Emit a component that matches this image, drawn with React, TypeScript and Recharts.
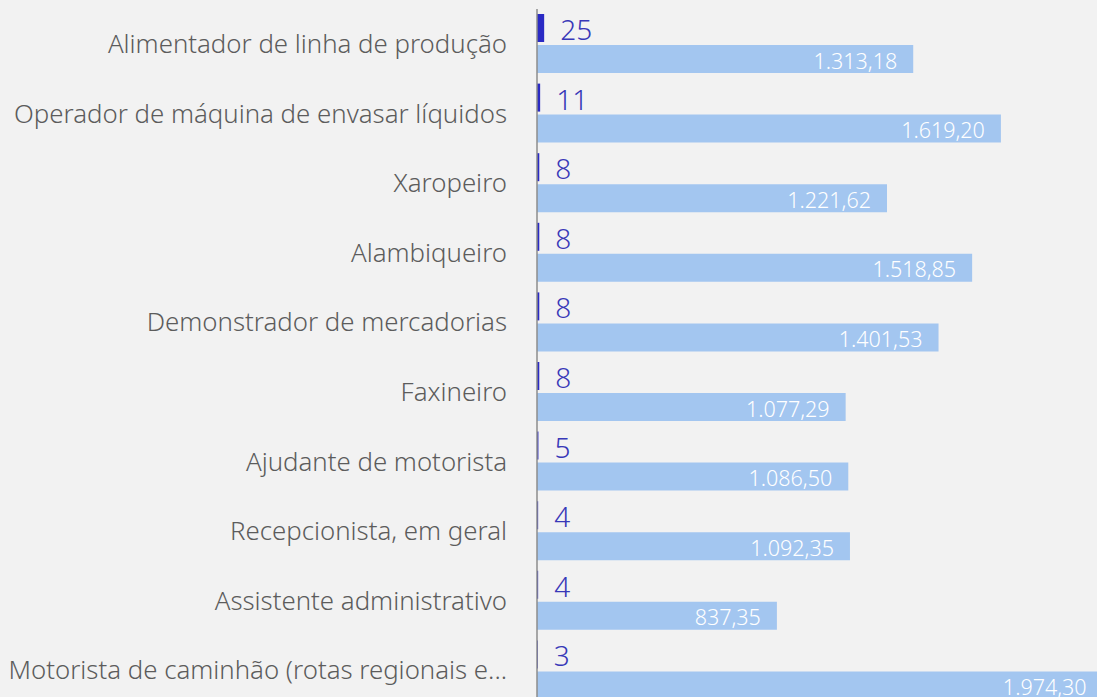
import React from 'react';
import { BarChart, Bar, XAxis, YAxis, LabelList } from 'recharts';

const categories = [
  'Alimentador de linha de produção',
  'Operador de máquina de envasar líquidos',
  'Xaropeiro',
  'Alambiqueiro',
  'Demonstrador de mercadorias',
  'Faxineiro',
  'Ajudante de motorista',
  'Recepcionista, em geral',
  'Assistente administrativo',
  'Motorista de caminhão (rotas regionais e...',
];
const counts = [25, 11, 8, 8, 8, 8, 5, 4, 4, 3];
const salaries = [1313.18, 1619.2, 1221.62, 1518.85, 1401.53, 1077.29, 1086.5, 1092.35, 837.35, 1974.3];

const data = categories.map((name, i) => ({ name, count: counts[i], salary: salaries[i] }));

const fmtBR = (v: any) => {
  const n = Number(v);
  const [int, dec] = n.toFixed(2).split('.');
  const withDots = int.replace(/\B(?=(\d{3})+(?!\d))/g, '.');
  return `${withDots},${dec}`;
};

const FONT = '"Noto Sans", "Open Sans", sans-serif';

export default function App() {
  return (
    <div
      style={{
        position: 'absolute',
        top: 0,
        left: 0,
        width: 1097,
        height: 697,
        overflow: 'hidden',
        background: '#f2f2f2',
        fontFamily: FONT,
      }}
    >
      <BarChart
        width={1110}
        height={710}
        data={data}
        layout="vertical"
        margin={{ top: 9, right: 0, bottom: 5, left: 0 }}
        barSize={28}
        barGap={3}
      >
        <XAxis type="number" hide domain={[0, 2000]} />
        <YAxis
          type="category"
          dataKey="name"
          width={537}
          tickSize={0}
          tickMargin={30}
          axisLine={{ stroke: '#8c8c8c', strokeWidth: 1.5 }}
          tickLine={false}
          interval={0}
          tick={{ fill: '#5c5c5c', fontSize: 25.8, fontFamily: FONT, fontWeight: 300 }}
        />
        <Bar dataKey="count" fill="#2a2ac4" isAnimationActive={false}>
          <LabelList
            dataKey="count"
            position="right"
            offset={16}
            fill="#3838b8"
            fontSize={28}
            fontFamily={FONT}
            fontWeight={300}
            dy={2}
          />
        </Bar>
        <Bar dataKey="salary" fill="#a3c6f0" isAnimationActive={false}>
          <LabelList
            dataKey="salary"
            position="insideRight"
            offset={16}
            fill="#ffffff"
            fontSize={21.5}
            fontFamily={FONT}
            fontWeight={300}
            dy={2}
            formatter={fmtBR}
          />
        </Bar>
      </BarChart>
    </div>
  );
}
